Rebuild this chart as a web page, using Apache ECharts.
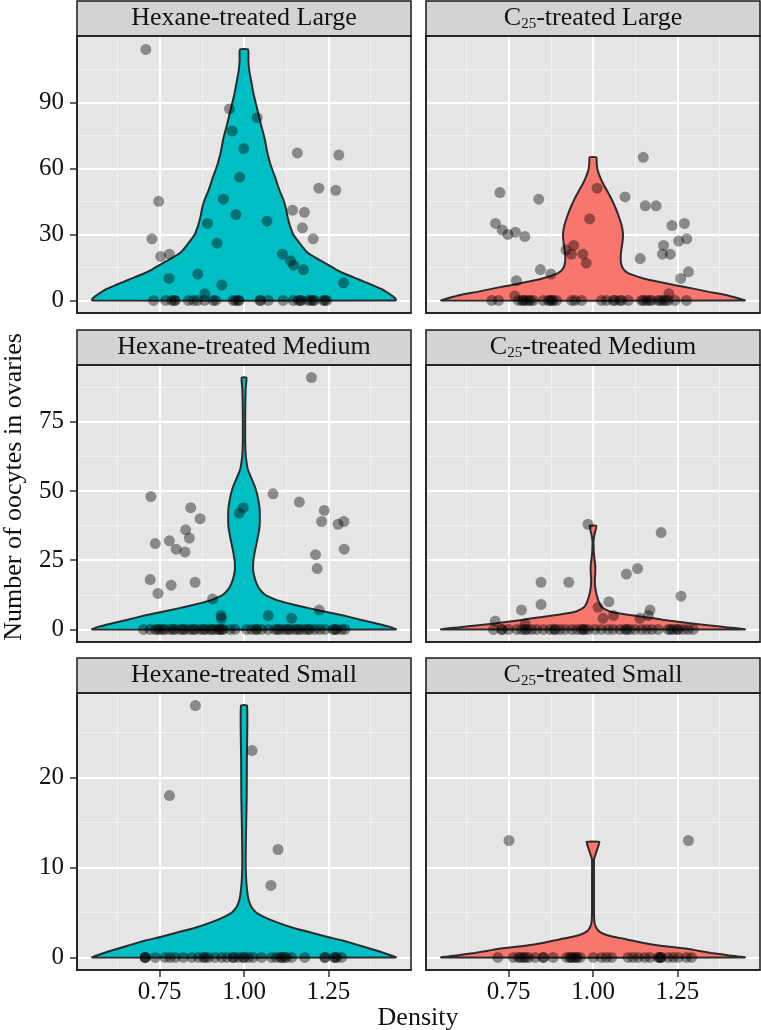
<!DOCTYPE html>
<html><head><meta charset="utf-8">
<script src="https://cdn.jsdelivr.net/npm/echarts@6/dist/echarts.min.js"></script>
<style>html,body{margin:0;padding:0;background:#fff}#chart{width:761px;height:1030px}</style>
</head><body><div id="chart"></div>
<script>
// ---------------- DATA ----------------
const stripLabels = ['Hexane-treated Large', 'C{s|25}-treated Large', 'Hexane-treated Medium', 'C{s|25}-treated Medium', 'Hexane-treated Small', 'C{s|25}-treated Small'];
const xTitle = 'Density';
const yTitle = 'Number of oocytes in ovaries';
const densityTicks = [0.75, 1.00, 1.25];
const largeTicks = [0, 30, 60, 90];
const mediumTicks = [0, 25, 50, 75];
const smallTicks = [0, 10, 20];

// jittered points [x, count]
const hexLargePts = [[0.709,114],[0.747,45],[0.727,28],[0.753,20],[0.779,21],[0.778,10],[0.863,12],[0.884,3],[0.892,35],[0.920,26],[0.934,7],[0.939,46],[0.957,87],[0.965,77],[0.976,39],[0.987,56],[0.999,69],[1.039,83],[1.068,36],[1.114,21],[1.138,18],[1.147,16],[1.176,14],[1.144,41],[1.158,67],[1.179,40],[1.173,33],[1.205,28],[1.222,51],[1.272,50],[1.281,66],[1.295,8]];
const hexLargeZeroX = [0.732,0.768,0.786,0.794,0.796,0.835,0.850,0.862,0.883,0.909,0.916,0.968,0.975,0.983,0.985,1.047,1.050,1.072,1.116,1.146,1.161,1.167,1.170,1.190,1.198,1.205,1.208,1.235,1.240,1.245];

const c25LargePts = [[0.724,49],[0.839,46],[0.711,35],[0.731,32],[0.748,30],[0.770,31],[0.798,29],[0.844,14],[0.875,12],[0.773,9],[0.768,2],[0.920,23],[0.943,25],[0.936,21],[0.970,21],[0.980,17],[0.990,37],[1.012,51],[1.095,47],[1.149,65],[1.155,43],[1.187,43],[1.140,19],[1.206,21],[1.229,21],[1.209,25],[1.234,34],[1.271,35],[1.254,27],[1.278,28],[1.283,13],[1.260,10],[1.225,3]];
const c25LargeZeroX = [0.700,0.720,0.779,0.790,0.794,0.800,0.809,0.815,0.823,0.853,0.868,0.872,0.878,0.882,0.892,0.937,0.947,0.966,1.025,1.040,1.060,1.065,1.080,1.085,1.104,1.144,1.150,1.159,1.168,1.174,1.193,1.200,1.208,1.215,1.223,1.243,1.277];

const hexMediumPts = [[0.724,48],[0.737,31],[0.722,18],[0.745,13],[0.779,32],[0.799,29],[0.784,16],[0.825,28],[0.827,36],[0.838,33],[0.842,44],[0.870,40],[0.855,17],[0.907,11],[0.932,5],[0.933,4],[0.986,42],[0.998,44],[1.072,5],[1.086,49],[1.141,4],[1.164,46],[1.200,91],[1.238,43],[1.230,39],[1.212,27],[1.217,22],[1.223,7],[1.279,38],[1.296,39],[1.297,29]];
const hexMediumZeroX = [0.702,0.722,0.737,0.745,0.751,0.760,0.766,0.781,0.790,0.796,0.811,0.820,0.825,0.840,0.850,0.855,0.870,0.880,0.885,0.899,0.905,0.914,0.925,0.929,0.935,0.939,0.959,0.973,1.008,1.023,1.037,1.037,1.052,1.072,1.092,1.100,1.107,1.121,1.130,1.136,1.151,1.160,1.166,1.180,1.190,1.195,1.210,1.225,1.240,1.264,1.270,1.274,1.289,1.299];

const c25MediumPts = [[0.985,38],[1.202,35],[0.846,17],[0.928,17],[1.099,20],[1.132,22],[0.846,9],[0.788,7],[1.047,10],[1.061,5],[1.015,8],[1.030,4],[1.169,7],[1.164,5],[1.139,4],[1.261,12],[0.710,3],[0.799,2]];
const c25MediumZeroX = [0.705,0.730,0.730,0.749,0.774,0.789,0.800,0.804,0.818,0.833,0.853,0.873,0.885,0.888,0.902,0.917,0.937,0.952,0.965,0.971,0.975,0.986,1.006,1.025,1.045,1.060,1.080,1.095,1.100,1.109,1.124,1.144,1.159,1.174,1.193,1.223,1.230,1.238,1.250,1.253,1.268,1.282,1.297];

const hexSmallPts = [[0.856,28],[0.779,18],[1.024,23],[1.101,12],[1.080,8]];
const hexSmallZeroX = [0.707,0.707,0.707,0.737,0.766,0.781,0.796,0.820,0.845,0.865,0.880,0.885,0.894,0.914,0.934,0.949,0.968,0.968,0.983,0.998,1.000,1.013,1.027,1.052,1.082,1.096,1.111,1.110,1.120,1.126,1.141,1.180,1.240,1.240,1.269,1.269,1.275,1.289];

const c25SmallPts = [[0.751,13],[1.283,13]];
const c25SmallZeroX = [0.718,0.764,0.779,0.785,0.794,0.800,0.809,0.829,0.853,0.853,0.882,0.922,0.932,0.935,0.942,0.950,0.952,0.962,1.001,1.025,1.040,1.055,1.104,1.119,1.134,1.154,1.169,1.193,1.198,1.200,1.203,1.223,1.238,1.253,1.277,1.292];

// violin outlines: [count, half-width in density units]
const hexLargeViolin = [[0,0.45],[1,0.448],[2.5,0.435],[5,0.41],[7,0.38],[9.4,0.342],[12,0.30],[14,0.273],[17,0.24],[19.2,0.214],[22,0.186],[26,0.165],[30,0.146],[34,0.136],[38,0.129],[42,0.124],[46,0.116],[50,0.105],[56,0.092],[62,0.078],[68,0.068],[73,0.062],[80,0.05],[88,0.0375],[94,0.028],[99,0.022],[104,0.016],[109,0.013],[114,0.012]];
const c25LargeViolin = [[0,0.45],[1,0.43],[2.6,0.39],[4,0.34],[5.6,0.29],[7,0.24],[8.6,0.19],[10,0.15],[11.7,0.115],[13,0.098],[14.7,0.088],[17,0.083],[20,0.082],[23,0.084],[26,0.087],[30,0.089],[34,0.085],[37,0.079],[40,0.072],[43,0.064],[46,0.055],[50,0.041],[53,0.03],[56,0.021],[59,0.014],[62,0.011],[65,0.010]];
const hexMediumViolin = [[0,0.45],[1,0.43],[2.2,0.39],[3.5,0.345],[5,0.295],[6.3,0.245],[7.6,0.195],[9,0.145],[10.6,0.097],[12,0.07],[13,0.058],[15,0.044],[18,0.033],[21.5,0.027],[25,0.028],[28,0.032],[31,0.037],[34,0.042],[37,0.046],[40,0.047],[44,0.046],[47,0.042],[49.3,0.038],[52,0.031],[54,0.024],[56,0.017],[58,0.011],[60,0.008],[63,0.005],[68,0.0035],[76,0.0035],[82,0.004],[87,0.005],[91,0.007]];
const c25MediumViolin = [[0,0.45],[0.7,0.4],[1.5,0.34],[2.5,0.27],[3.4,0.21],[4,0.18],[5,0.12],[5.8,0.075],[6.5,0.05],[7.3,0.035],[8.2,0.025],[10,0.017],[12,0.012],[14,0.008],[16,0.006],[18,0.0055],[20,0.0065],[22.7,0.007],[25,0.005],[27,0.003],[29,0.002],[31.8,0.0015],[34.6,0.005],[37.4,0.010]];
const hexSmallViolin = [[0,0.45],[0.3,0.43],[0.74,0.395],[1.3,0.345],[1.85,0.295],[2.3,0.245],[2.8,0.195],[3.3,0.145],[3.9,0.098],[4.4,0.065],[5,0.036],[5.6,0.022],[6.5,0.013],[7.5,0.009],[9,0.006],[11,0.005],[14,0.006],[18,0.008],[22,0.0085],[28,0.009]];
const c25SmallViolin = [[0,0.45],[0.25,0.4],[0.5,0.35],[0.75,0.31],[0.95,0.28],[1.3,0.2],[1.6,0.15],[2.0,0.1],[2.3,0.06],[2.6,0.032],[3.0,0.015],[3.5,0.007],[4,0.004],[5,0.003],[7,0.003],[9,0.003],[10.9,0.003],[11.5,0.008],[12.2,0.014],[12.85,0.019]];

// ---------------- LAYOUT / STYLE ----------------
const FONT = 'Liberation Serif';
const TEAL = '#00BFC4', SALMON = '#F8766D';
const colLeft = [77, 426], colWidth = 334;
const rowTop = [36, 365, 693], rowHeight = 277, stripH = 35;
const yExtent = [[-5.7, 120.1], [-4.55, 95.55], [-1.4, 29.4]];
const yTickSets = [largeTicks, mediumTicks, smallTicks];
const yStep = [30, 25, 10];

const panels = [
  {pts: hexLargePts, zeros: hexLargeZeroX, violin: hexLargeViolin, color: TEAL},
  {pts: c25LargePts, zeros: c25LargeZeroX, violin: c25LargeViolin, color: SALMON},
  {pts: hexMediumPts, zeros: hexMediumZeroX, violin: hexMediumViolin, color: TEAL},
  {pts: c25MediumPts, zeros: c25MediumZeroX, violin: c25MediumViolin, color: SALMON},
  {pts: hexSmallPts, zeros: hexSmallZeroX, violin: hexSmallViolin, color: TEAL},
  {pts: c25SmallPts, zeros: c25SmallZeroX, violin: c25SmallViolin, color: SALMON}
];

const grid = [], xAxis = [], yAxis = [], series = [], graphic = [];
panels.forEach((p, i) => {
  const row = Math.floor(i / 2), col = i % 2;
  grid.push({left: colLeft[col], top: rowTop[row], width: colWidth, height: rowHeight,
    show: true, backgroundColor: '#E5E5E5', borderWidth: 0});
  xAxis.push({
    gridIndex: i, type: 'value', min: 0.505, max: 1.495, minInterval: 0.25, maxInterval: 0.25,
    axisLine: {show: true, onZero: false, lineStyle: {color: '#1a1a1a', width: 1.5}},
    axisTick: {show: row === 2, customValues: densityTicks, length: 7, lineStyle: {color: '#333', width: 1.5}},
    axisLabel: {show: row === 2, customValues: densityTicks, formatter: v => v.toFixed(2),
      fontFamily: FONT, fontSize: 25, color: '#111', margin: 10},
    splitLine: {show: true, lineStyle: {color: '#fff', width: 2}},
    minorTick: {show: false, splitNumber: 2},
    minorSplitLine: {show: true, lineStyle: {color: '#F2F2F2', width: 1}}
  });
  yAxis.push({
    gridIndex: i, type: 'value', min: yExtent[row][0], max: yExtent[row][1],
    minInterval: yStep[row], maxInterval: yStep[row],
    axisLine: {show: true, onZero: false, lineStyle: {color: '#1a1a1a', width: 1.5}},
    axisTick: {show: col === 0, customValues: yTickSets[row], length: 7, lineStyle: {color: '#333', width: 1.5}},
    axisLabel: {show: col === 0, customValues: yTickSets[row],
      fontFamily: FONT, fontSize: 25, color: '#111', margin: 13},
    splitLine: {show: true, lineStyle: {color: '#fff', width: 2}},
    minorTick: {show: false, splitNumber: 2},
    minorSplitLine: {show: true, lineStyle: {color: '#F2F2F2', width: 1}}
  });
  const prof = p.violin;
  series.push({
    type: 'custom', xAxisIndex: i, yAxisIndex: i, z: 2, silent: true,
    data: [[1, 0]],
    renderItem: function (params, api) {
      const cx = api.value(0);
      const right = prof.map(q => api.coord([cx + q[1], q[0]]));
      const left = prof.slice().reverse().map(q => api.coord([cx - q[1], q[0]]));
      return {type: 'polygon', shape: {points: right.concat(left), smooth: 0.15},
        style: {fill: p.color, stroke: '#2b2b2b', lineWidth: 2}};
    }
  });
  series.push({
    type: 'scatter', xAxisIndex: i, yAxisIndex: i, z: 3, silent: true,
    symbolSize: 11, itemStyle: {color: '#000', opacity: 0.4},
    data: p.pts.concat(p.zeros.map(x => [x, 0]))
  });
  // strip
  graphic.push({type: 'rect', z: 100, silent: true,
    shape: {x: colLeft[col], y: rowTop[row] - stripH, width: colWidth, height: stripH},
    style: {fill: '#D3D3D3', stroke: '#1a1a1a', lineWidth: 1.5}});
  graphic.push({type: 'text', z: 101, silent: true,
    x: colLeft[col] + colWidth / 2, y: rowTop[row] - stripH / 2,
    style: {text: stripLabels[i], fontFamily: FONT, fontSize: 26, fill: '#111',
      align: 'center', verticalAlign: 'middle',
      rich: {s: {fontFamily: FONT, fontSize: 15, fill: '#111', verticalAlign: 'bottom', padding: [12, 0, 0, 0]}}}});
  // panel border
  graphic.push({type: 'rect', z: 100, silent: true,
    shape: {x: colLeft[col], y: rowTop[row], width: colWidth, height: rowHeight},
    style: {fill: 'transparent', stroke: '#1a1a1a', lineWidth: 1.5}});
});
graphic.push({type: 'text', z: 101, silent: true, x: 418, y: 1018,
  style: {text: xTitle, fontFamily: FONT, fontSize: 26, fill: '#111', align: 'center', verticalAlign: 'middle'}});
graphic.push({type: 'text', z: 101, silent: true, x: 14, y: 487, rotation: Math.PI / 2,
  style: {text: yTitle, fontFamily: FONT, fontSize: 26, fill: '#111', align: 'center', verticalAlign: 'middle'}});

const chart = echarts.init(document.getElementById('chart'), null, {renderer: 'canvas'});
chart.setOption({animation: false, backgroundColor: '#fff', grid, xAxis, yAxis, series, graphic});
</script></body></html>
